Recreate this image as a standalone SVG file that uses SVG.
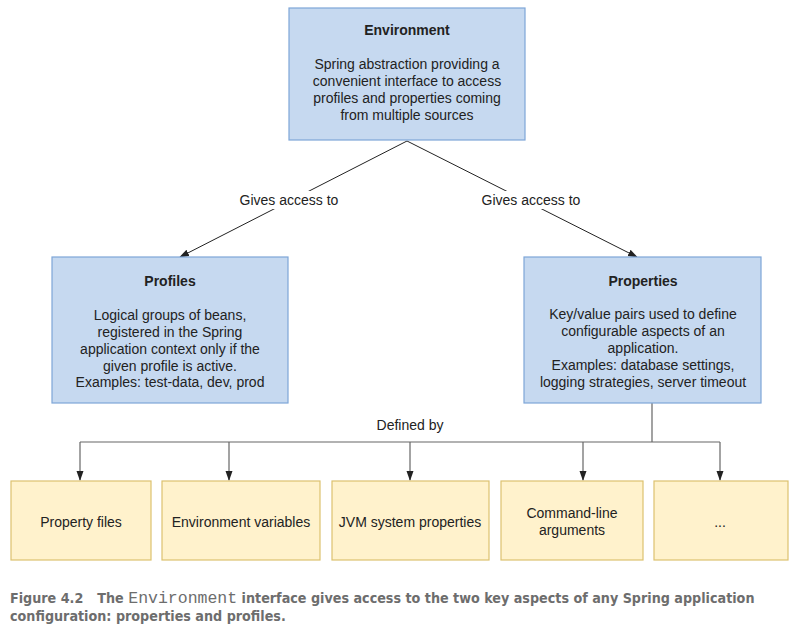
<svg xmlns="http://www.w3.org/2000/svg" width="800" height="639" viewBox="0 0 800 639">
<defs>
<style>
.blue{fill:#c6d9f0;stroke:#7ea6d8;stroke-width:1.2}
.yellow{fill:#fff2cc;stroke:#dcc16f;stroke-width:1.2}
text{font-family:"Liberation Sans",Arial,sans-serif;font-size:14px;fill:#222;text-anchor:middle}
.t{font-weight:bold}
.edge{stroke:#222;stroke-width:1;fill:none}
.tree{stroke:#666;stroke-width:1.2;fill:none}
.cap{font-family:"Liberation Sans Narrow","DejaVu Sans Condensed",sans-serif;font-weight:bold;font-size:14.2px;fill:#6d6d6d;text-anchor:start}
.mono{font-family:"Liberation Mono","Courier New",monospace;font-weight:normal;font-size:16.5px}
</style>
<marker id="arr" markerWidth="10" markerHeight="10" viewBox="0 0 10 10" refX="9" refY="5" orient="auto" markerUnits="userSpaceOnUse">
<path d="M0,1.5 L10,5 L0,8.5 Z" fill="#222"/>
</marker>
</defs>
<rect width="800" height="639" fill="#fff"/>
<g id="connectors">
<path class="edge" d="M407,141 L180,257" marker-end="url(#arr)"/>
<path class="edge" d="M407,141 L637,257" marker-end="url(#arr)"/>
<rect x="236" y="191" width="106" height="18" fill="#fff"/>
<rect x="478" y="191" width="106" height="18" fill="#fff"/>
<text x="289" y="205">Gives access to</text>
<text x="531" y="205">Gives access to</text>
<path class="tree" d="M652,403 L652,442 M80,442 L720,442"/>
<path class="tree" d="M80,442 L80,480" marker-end="url(#arr)"/>
<path class="tree" d="M229,442 L229,480" marker-end="url(#arr)"/>
<path class="tree" d="M410,442 L410,480" marker-end="url(#arr)"/>
<path class="tree" d="M583,442 L583,480" marker-end="url(#arr)"/>
<path class="tree" d="M720,442 L720,480" marker-end="url(#arr)"/>
<text x="410" y="430">Defined by</text>
</g>
<g id="environment">
<rect class="blue" x="289" y="8" width="236" height="132"/>
<text class="t" x="407" y="35">Environment</text>
<text x="407" y="69">Spring abstraction providing a</text>
<text x="407" y="86">convenient interface to access</text>
<text x="407" y="103">profiles and properties coming</text>
<text x="407" y="120">from multiple sources</text>
</g>
<g id="profiles">
<rect class="blue" x="52" y="257" width="236" height="146"/>
<text class="t" x="170" y="286">Profiles</text>
<text x="170" y="320">Logical groups of beans,</text>
<text x="170" y="337">registered in the Spring</text>
<text x="170" y="354">application context only if the</text>
<text x="170" y="371">given profile is active.</text>
<text x="170" y="387">Examples: test-data, dev, prod</text>
</g>
<g id="properties">
<rect class="blue" x="524" y="257" width="237" height="146"/>
<text class="t" x="643" y="286">Properties</text>
<text x="643" y="319">Key/value pairs used to define</text>
<text x="643" y="336">configurable aspects of an</text>
<text x="643" y="353">application.</text>
<text x="643" y="370">Examples: database settings,</text>
<text x="643" y="387">logging strategies, server timeout</text>
</g>
<g id="property-files">
<rect class="yellow" x="11" y="481" width="140" height="79"/>
<text x="81" y="527">Property files</text>
</g>
<g id="environment-variables">
<rect class="yellow" x="162" y="481" width="158" height="79"/>
<text x="241" y="527">Environment variables</text>
</g>
<g id="jvm-system-properties">
<rect class="yellow" x="332" y="481" width="157" height="79"/>
<text x="410" y="527">JVM system properties</text>
</g>
<g id="command-line-arguments">
<rect class="yellow" x="501" y="481" width="142" height="79"/>
<text x="572" y="518">Command-line</text>
<text x="572" y="535">arguments</text>
</g>
<g id="more">
<rect class="yellow" x="654" y="481" width="134" height="79"/>
<text x="720" y="527">...</text>
</g>
<g id="caption">
<text class="cap" x="10" y="603">Figure 4.2<tspan dx="14">The </tspan><tspan class="mono">Environment</tspan> interface gives access to the two key aspects of any Spring application</text>
<text class="cap" x="10" y="621">configuration: properties and profiles.</text>
</g>
</svg>
